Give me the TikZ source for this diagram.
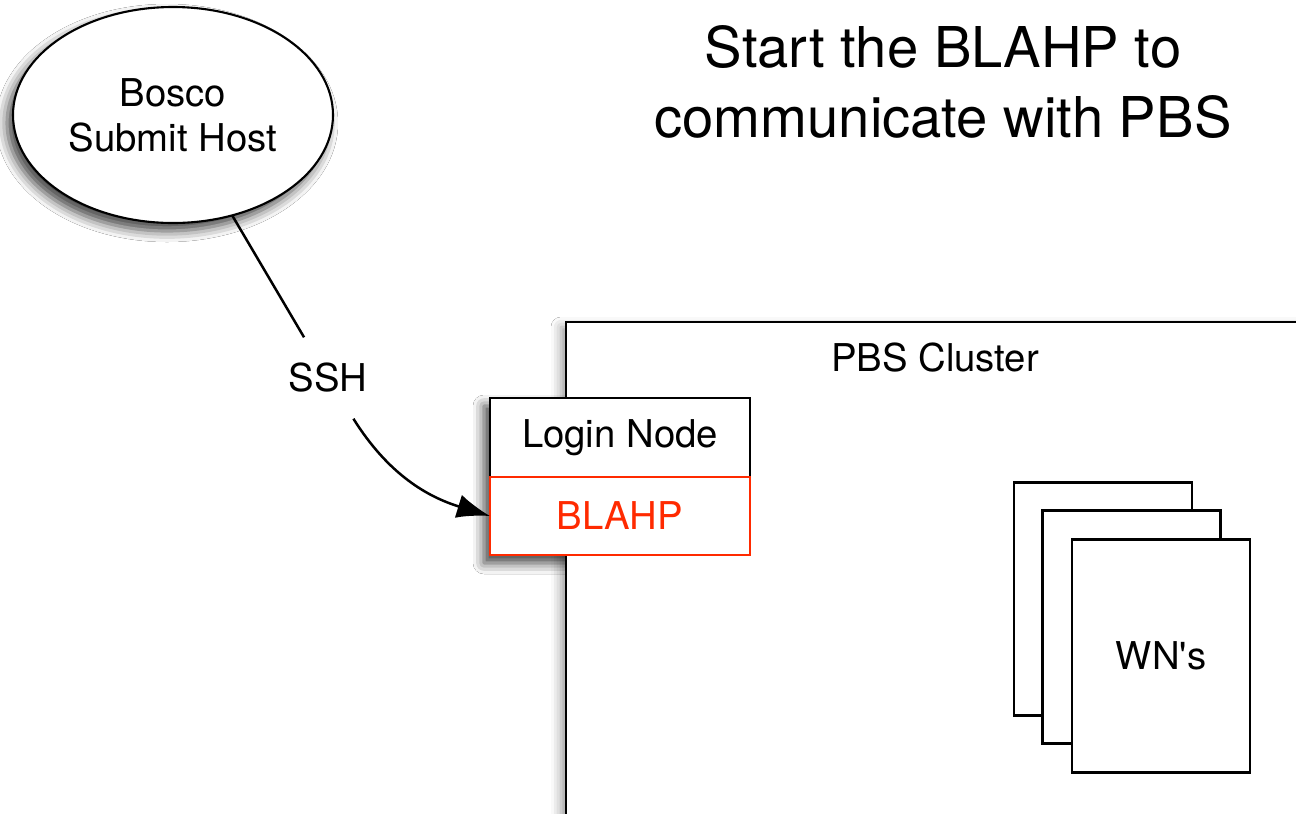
\documentclass[tikz,border=0pt]{standalone}
\usepackage{fontspec}
\setmainfont{TeX Gyre Heros}
\usetikzlibrary{positioning,shapes.geometric,shadows.blur,arrows.meta,backgrounds}
\definecolor{blahpred}{HTML}{FF2A00}
\newcommand{\labelfont}{\fontsize{21.8}{25}\selectfont}
\newcommand{\titlefont}{\fontsize{32}{39.5}\selectfont}

\begin{document}
\begin{tikzpicture}[x=0.2mm, y=-0.2mm, line width=0.42mm,
    softshadow/.style={blur shadow={shadow xshift=-1.2mm, shadow yshift=-1.6mm,
        shadow blur radius=2.2mm, shadow opacity=75}},
    lightshadow/.style={blur shadow={shadow xshift=-1mm, shadow yshift=-1mm,
        shadow blur radius=2mm, shadow opacity=40}},
    box/.style={draw, fill=white, inner sep=0, outer sep=0, font=\labelfont},
    wnbox/.style={box, minimum width=35.6mm, minimum height=46.6mm},
    link/.style={line width=0.5mm},
  ]
  \clip (0,0) rectangle (1296,813);

  % title
  \node[font=\titlefont, align=center] (title) at (943,82)
    {Start the BLAHP to\\communicate with PBS};

  % submit host
  \node[ellipse, box, softshadow, minimum width=64mm, minimum height=43.2mm,
    align=center, font=\fontsize{21.8}{25.5}\selectfont] (host) at (173,115)
    {Bosco\\Submit Host};

  % cluster
  \draw[fill=white, lightshadow] (566,322) rectangle (1400,900);
  \node[font=\labelfont] (cluster) at (935,358) {PBS Cluster};

  % login node with the BLAHP
  \node[box, minimum width=52mm, minimum height=15.8mm] (login) at (620,437.5) {Login Node};
  \node[box, draw=blahpred, text=blahpred, minimum width=52mm, minimum height=15.6mm,
    below=0pt of login] (blahp) {BLAHP};
  \draw[blahpred] (blahp.north west) rectangle (blahp.south east);
  \begin{scope}[on background layer]
    \fill[white] (0,0) rectangle (1296,813);
    \path[fill=white, softshadow] (login.north west) rectangle (blahp.south east);
  \end{scope}

  % worker nodes
  \node[wnbox] (wn1) at (1103,599) {};
  \node[wnbox] (wn2) at (1131.5,627) {};
  \node[wnbox] (wn3) at (1161,656) {WN\textquotesingle s};

  % ssh connection
  \node[font=\labelfont, inner xsep=1mm, inner ysep=5mm] (ssh) at (328,378) {SSH};
  \draw[link] (host) -- (ssh);
  \draw[link, -{Latex[length=6.6mm, width=4.8mm, fill=black]}]
    (ssh) to[out=-58, in=163] (blahp.west);
\end{tikzpicture}
\end{document}
